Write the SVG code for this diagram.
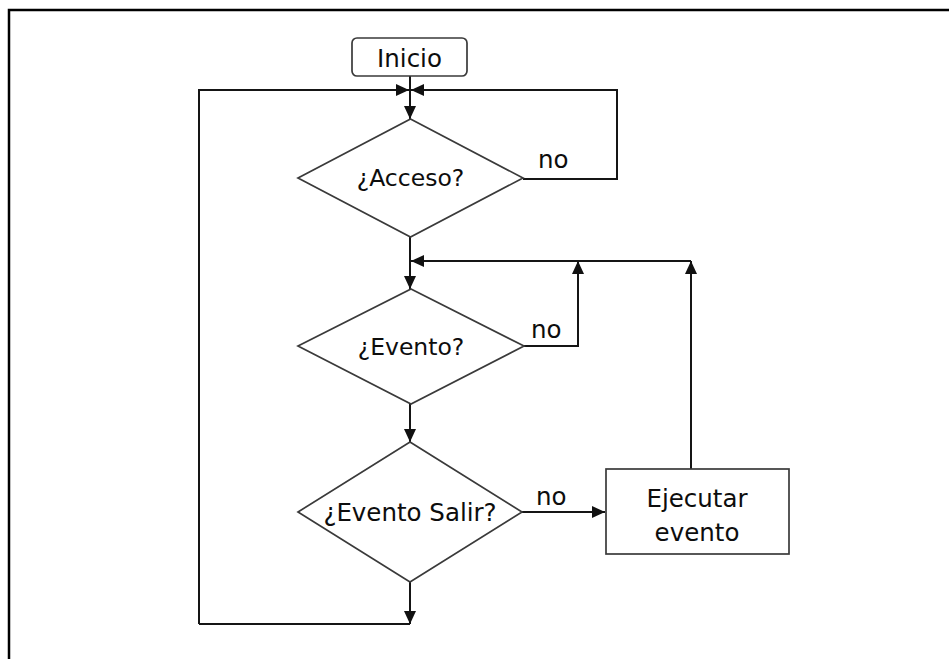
<svg xmlns="http://www.w3.org/2000/svg" width="949" height="659" viewBox="0 0 949 659">
  <style>
    .frame { fill: none; stroke: #000; stroke-width: 2.5; }
    .shape { fill: #fff; stroke: #3a3a3a; stroke-width: 1.7; }
    .conn { fill: none; stroke: #151515; stroke-width: 2; }
    .arrow { marker-end: url(#head); }
    text { font-family: "DejaVu Sans", Verdana, sans-serif; font-size: 24.5px; fill: #0d0d0d; }
    .c { text-anchor: middle; }
    .s { font-size: 23.5px; }
  </style>
  <defs>
    <marker id="head" markerUnits="userSpaceOnUse" markerWidth="14" markerHeight="12" refX="13" refY="6" orient="auto">
      <path d="M0,0 L13,6 L0,12 z" fill="#111"/>
    </marker>
  </defs>

  <rect width="949" height="659" fill="#fff"/>
  <path class="frame" d="M9,659 V10 H949"/>

  <!-- connectors -->
  <g id="connectors">
    <path class="conn arrow" d="M410,76 V119"/>
    <path class="conn arrow" d="M199,624 V90 H409"/>
    <path class="conn arrow" d="M523,179 H617 V90 H411"/>
    <path class="conn arrow" d="M410,237 V289"/>
    <path class="conn arrow" d="M524,346 H578 V261"/>
    <path class="conn arrow" d="M691,469 V261"/>
    <path class="conn arrow" d="M691,261 H411"/>
    <path class="conn arrow" d="M410,404 V442"/>
    <path class="conn arrow" d="M522,512 H605"/>
    <path class="conn arrow" d="M410,582 V624"/>
    <path class="conn" d="M410,624 H199"/>
    <text x="538" y="168">no</text>
    <text x="531" y="338">no</text>
    <text x="536" y="505">no</text>
  </g>

  <g id="inicio">
    <rect class="shape" x="352" y="38" width="115" height="38" rx="5"/>
    <text class="c" x="409.5" y="67">Inicio</text>
  </g>

  <g id="acceso">
    <polygon class="shape" points="410.5,119 523,178 410.5,237 298,178"/>
    <text class="c s" x="410.5" y="186">¿Acceso?</text>
  </g>

  <g id="evento">
    <polygon class="shape" points="411,289 524,346 411,404 298,346"/>
    <text class="c s" x="411" y="355">¿Evento?</text>
  </g>

  <g id="evento-salir">
    <polygon class="shape" points="410,442 522,512 410,582 298,512"/>
    <text class="c" x="410" y="521">¿Evento Salir?</text>
  </g>

  <g id="ejecutar">
    <rect class="shape" x="606" y="469" width="183" height="85"/>
    <text class="c" x="697" y="507">Ejecutar</text>
    <text class="c" x="697" y="541">evento</text>
  </g>
</svg>
